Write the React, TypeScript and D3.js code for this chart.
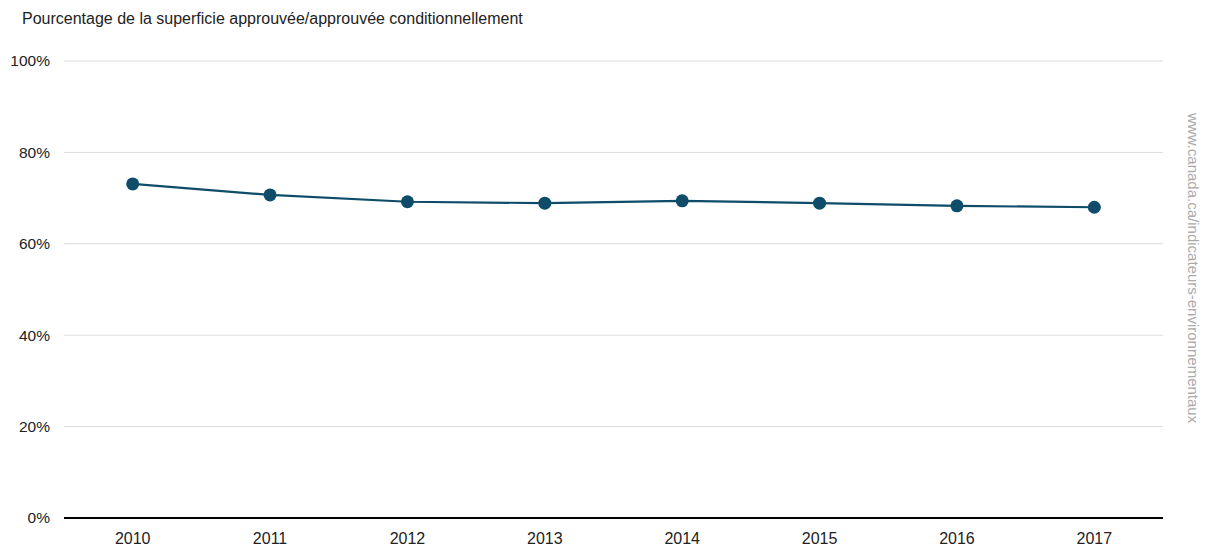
import * as d3 from 'd3';

// Chart data
const years = ['2010', '2011', '2012', '2013', '2014', '2015', '2016', '2017'];
const approvedShare = [73.1, 70.7, 69.2, 68.9, 69.4, 68.9, 68.3, 68.0];
const yTicks = [0, 20, 40, 60, 80, 100];

const title = 'Pourcentage de la superficie approuvée/approuvée conditionnellement';
const sourceText = 'www.canada.ca/indicateurs-environnementaux';

const width = 1206;
const height = 546;
const margin = { top: 61, right: 43, bottom: 28, left: 64 };
const font = '"Liberation Sans", Arial, sans-serif';
const lineColor = '#0e4c6a';

const App = () => {
  const innerW = width - margin.left - margin.right;
  const innerH = height - margin.top - margin.bottom;

  const x = d3.scalePoint<string>()
    .domain(years)
    .range([0, innerW])
    .padding(0.5);

  const y = d3.scaleLinear()
    .domain([0, 100])
    .range([innerH, 0]);

  const line = d3.line<number>()
    .x((_, i) => x(years[i]) as number)
    .y(d => y(d));

  return (
    <svg
      width={width}
      height={height}
      style={{ position: 'absolute', left: 0, top: 0, background: 'white' }}
      fontFamily={font}
    >
      <text x={22} y={24} fontSize={16} fill="#222">{title}</text>

      <g transform={`translate(${margin.left},${margin.top})`}>
        {/* grid + y labels */}
        {yTicks.map(t => (
          <g key={t}>
            {t > 0 && (
              <line x1={0} x2={innerW} y1={y(t)} y2={y(t)} stroke="#dcdcdc" strokeWidth={1} />
            )}
            <text x={-14} y={y(t)} dy="0.35em" textAnchor="end" fontSize={15.5} fill="#222">
              {t}%
            </text>
          </g>
        ))}

        {/* x axis */}
        <line x1={0} x2={innerW} y1={innerH} y2={innerH} stroke="#000" strokeWidth={2} />
        {years.map(yr => (
          <text key={yr} x={x(yr)} y={innerH + 26} textAnchor="middle" fontSize={16} fill="#222">
            {yr}
          </text>
        ))}

        {/* series */}
        <path d={line(approvedShare) || ''} fill="none" stroke={lineColor} strokeWidth={2.2} />
        {approvedShare.map((v, i) => (
          <circle key={years[i]} cx={x(years[i])} cy={y(v)} r={6.5} fill={lineColor} />
        ))}
      </g>

      <text
        transform={`translate(1188,113) rotate(90)`}
        fontSize={15}
        fill="#aaaaaa"
      >
        {sourceText}
      </text>
    </svg>
  );
};

export default App;
